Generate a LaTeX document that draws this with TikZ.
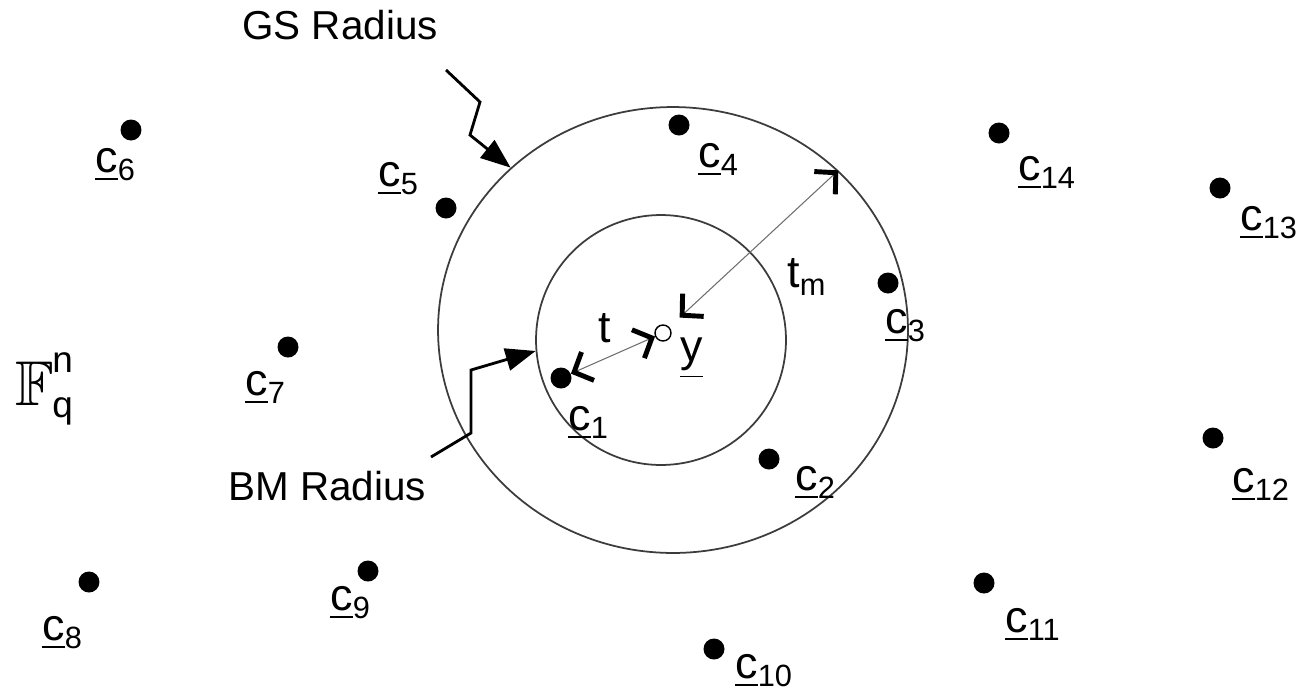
\documentclass[tikz,border=0pt]{standalone}
\usepackage{amsmath}
\usepackage{amssymb}
\usepackage{fontspec}
\setmainfont{Liberation Sans}
\usepackage{tikz}
\usetikzlibrary{arrows.meta,shapes.geometric}
\definecolor{ringgray}{RGB}{60,60,60}
\definecolor{dimgray}{RGB}{110,110,110}

\newcommand{\subdrop}[1]{\raisebox{-0.2em}{\fontsize{17.5}{20}\selectfont #1}}
\newcommand{\cw}[1]{\underline{c}\subdrop{#1}}

\tikzset{
  dot/.style={circle, fill=black, inner sep=0pt, minimum size=0.42cm},
  lbl/.style={anchor=base west, inner sep=0pt, font=\fontsize{25.5}{30}\selectfont},
  txt/.style={anchor=base west, inner sep=0pt, font=\fontsize{23}{27}\selectfont},
  idx/.style={anchor=base west, inner sep=0pt, font=\fontsize{21}{24}\selectfont},
  ring/.style={draw=ringgray, line width=1pt, inner sep=0pt},
  dimline/.style={draw=dimgray, line width=0.6pt, {Straight Barb[length=0.3cm,width=0.62cm,line width=2.8pt,color=black]}-{Straight Barb[length=0.3cm,width=0.62cm,line width=2.8pt,color=black]}},
  leader/.style={line width=1.6pt, -{Triangle[length=0.6cm,width=0.45cm]}}
}

\begin{document}
\begin{tikzpicture}[x=0.02cm, y=-0.02cm]
    \useasboundingbox (0,0) rectangle (1305,694);

    % the two spheres round the received word
    \node[ring, ellipse, minimum width=9.4cm, minimum height=8.92cm] (gsring) at (673,330) {};
    \node[ring, circle, minimum size=5cm] (bmring) at (661,340) {};

    % received word
    \node[circle, draw=black, line width=0.8pt, fill=white, inner sep=0pt, minimum size=0.32cm] (y) at (663,333) {};
    \node[lbl] (ylbl) at (680,361) {\underline{y}};

    % codewords
    \node[dot] (c1) at (561,378) {};
    \node[dot] (c2) at (769,459) {};
    \node[dot] (c3) at (888,283) {};
    \node[dot] (c4) at (679,125) {};
    \node[dot] (c5) at (446,208) {};
    \node[dot] (c6) at (131,130) {};
    \node[dot] (c7) at (288,347) {};
    \node[dot] (c8) at (89,582) {};
    \node[dot] (c9) at (368,571) {};
    \node[dot] (c10) at (714,649) {};
    \node[dot] (c11) at (984,583) {};
    \node[dot] (c12) at (1213,438) {};
    \node[dot] (c13) at (1220,188) {};
    \node[dot] (c14) at (999,133) {};

    \node[lbl] at (568,430) {\cw{1}};
    \node[lbl] at (795,490) {\cw{2}};
    \node[lbl] at (885,333) {\cw{3}};
    \node[lbl] at (698,167) {\cw{4}};
    \node[lbl] at (378,186) {\cw{5}};
    \node[lbl] at (95,172) {\cw{6}};
    \node[lbl] at (245,395) {\cw{7}};
    \node[lbl] at (42,640) {\cw{8}};
    \node[lbl] at (330,610) {\cw{9}};
    \node[lbl] at (735,678) {\cw{10}};
    \node[lbl] at (1005,632) {\cw{11}};
    \node[lbl] at (1232,492) {\cw{12}};
    \node[lbl] at (1240,230) {\cw{13}};
    \node[lbl] at (1018,180) {\cw{14}};

    % the space
    \node[anchor=base west, inner sep=0pt, font=\fontsize{36}{42}\selectfont] (space) at (15,405) {$\mathbb{F}$};
    \node[idx] (spacen) at (52,372) {n};
    \node[idx] (spaceq) at (52,417) {q};

    % radii
    \draw[dimline] (c1) -- (y);
    \draw[dimline, shorten <=0.28cm] (y) -- (gsring.44);
    \node[lbl] (tlbl) at (598,342) {t};
    \node[lbl] (tmlbl) at (787,287) {t\subdrop{m}};

    % leaders
    \node[txt] (gs) at (242,39) {GS Radius};
    \node[txt] (bm) at (228,500) {BM Radius};
    \coordinate (gsa) at (446,70);
    \coordinate (gsb) at (480,102);
    \coordinate (gsc) at (470,135);
    \draw[leader] (gsa) -- (gsb) -- (gsc) -- (gsring.135);
    \coordinate (bma) at (431,457);
    \coordinate (bmb) at (471,433);
    \coordinate (bmc) at (471,370);
    \draw[leader] (bma) -- (bmb) -- (bmc) -- (bmring.185);
\end{tikzpicture}
\end{document}
